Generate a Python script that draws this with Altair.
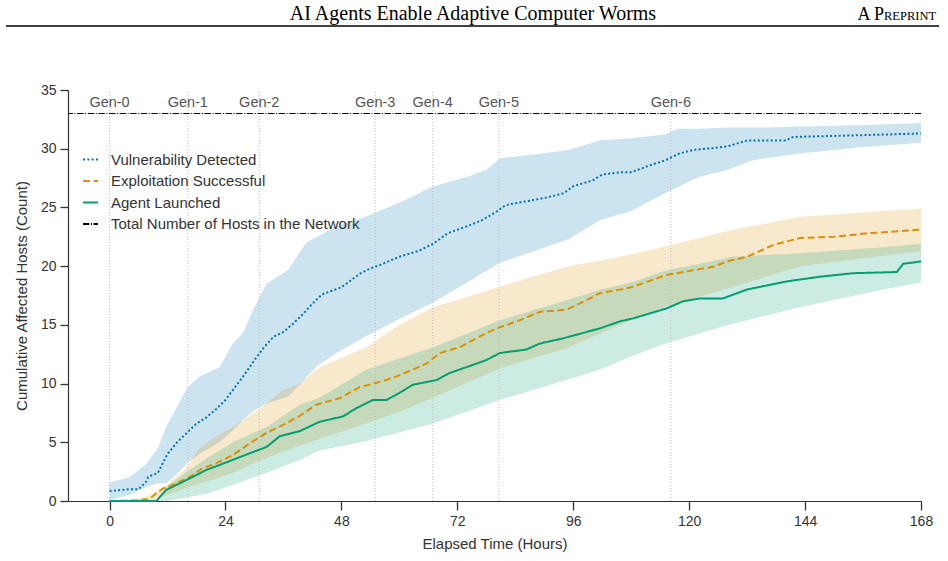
import altair as alt
import pandas as pd

# ---- series: cumulative affected hosts over elapsed hours ----
vuln_t = [0, 4, 6, 7.5, 8, 10, 12, 14, 16, 18, 20, 22, 24, 26, 28, 30, 32, 34, 36, 38,
          40, 42, 44, 46, 48, 50, 52, 54, 56, 60, 64, 67, 70, 74, 77, 80, 82, 86, 90, 94,
          96, 100, 102, 106, 108, 112, 115, 118, 121, 126, 128, 132, 140, 141.5, 160, 168]
vuln_mean = [0.85, 1.0, 1.0, 1.6, 2.05, 2.4, 4.0, 5.0, 5.8, 6.6, 7.1, 7.8, 8.6, 9.7, 10.8, 12.0, 13.1, 14.0, 14.4, 15.1,
             15.9, 16.8, 17.6, 17.9, 18.2, 18.8, 19.4, 19.8, 20.1, 20.8, 21.3, 21.9, 22.8, 23.4, 23.9, 24.6, 25.2, 25.5, 25.8, 26.2,
             26.8, 27.3, 27.8, 28.0, 28.0, 28.6, 29.0, 29.6, 29.9, 30.1, 30.2, 30.7, 30.7, 31.0, 31.2, 31.3]
vuln_band_t = [0, 4, 7.5, 10, 11.7, 14, 16, 18.6, 22.8, 25.5, 27.6, 30, 32.5, 37, 40.7, 43, 47, 53, 60, 67,
               74, 78, 81, 88, 95, 101.5, 108, 115, 117.5, 122, 128, 133, 136, 143, 155, 168]
vuln_hi = [1.6, 2.0, 3.1, 4.5, 6.3, 8.0, 9.6, 10.6, 11.4, 13.4, 14.3, 16.5, 18.5, 19.7, 22.0, 22.5, 23.4, 24.2, 25.4, 26.8,
           27.6, 28.2, 29.2, 29.5, 29.9, 30.7, 30.9, 31.2, 31.7, 31.7, 31.8, 31.8, 31.8, 31.9, 32.0, 32.2]
vuln_lo = [0.1, 0.5, 1.2, 1.5, 1.5, 2.3, 3.2, 4.0, 5.0, 6.0, 6.9, 7.7, 8.3, 8.9, 10.5, 11.5, 12.6, 14.0, 15.5, 16.9,
           18.6, 19.6, 20.3, 21.3, 22.3, 23.9, 24.7, 26.2, 26.7, 27.6, 28.2, 29.0, 29.2, 29.6, 30.1, 30.5]

exp_t = [0, 6, 8.3, 11, 13.8, 16.6, 19.3, 22, 25.5, 29, 32.5, 36, 39.4, 42.8, 47.6, 51.8, 56.6, 60, 65.6, 68.4,
         72.5, 78, 80.8, 85, 89, 94.6, 98.8, 101.5, 105.7, 108.4, 115.3, 125, 127.8, 132, 137.4, 143, 150, 157, 168]
exp_mean = [0, 0.05, 0.2, 1.05, 1.5, 2.05, 2.8, 3.2, 3.9, 4.9, 5.8, 6.5, 7.25, 8.2, 8.75, 9.7, 10.2, 10.7, 11.7, 12.6,
            13.1, 14.3, 14.8, 15.4, 16.1, 16.3, 17.1, 17.7, 18.0, 18.25, 19.25, 19.95, 20.4, 20.8, 21.8, 22.4, 22.5, 22.8, 23.1]
exp_band_t = [0, 6, 8.3, 11.7, 15.9, 18.6, 22, 25.5, 29.7, 35.9, 39.4, 43.5, 53.2, 60, 67, 80.8, 94.6, 105.7, 115.3, 129,
              143, 168]
exp_hi = [0.05, 0.2, 0.5, 1.3, 2.8, 4.5, 5.5, 6.3, 7.4, 9.45, 10.0, 11.4, 13.1, 15.0, 16.5, 18.25, 19.95, 20.8, 21.7, 23.1,
          24.2, 24.9]
exp_lo = [0, 0, 0, 0.5, 1.1, 1.5, 1.9, 2.4, 3.2, 4.2, 4.7, 5.3, 6.6, 7.6, 8.8, 11.3, 13.0, 15.0, 16.6, 18.2,
          20.0, 21.3]

agent_t = [0, 9.7, 11.7, 14.5, 17.3, 20, 22.8, 25.5, 29, 32.5, 35.2, 39.4, 43.5, 48.3, 51.1, 54.5, 57.3, 60, 62.8, 67.7,
           70.4, 75.3, 78, 80.8, 86.3, 89, 93.9, 98.8, 101.5, 105.7, 108.4, 115.3, 118.7, 122.2, 127, 131.9, 140.2, 147.1, 154, 163,
           164.3, 168]
agent_mean = [0, 0, 0.94, 1.5, 2.07, 2.64, 3.07, 3.5, 4.06, 4.6, 5.5, 5.95, 6.75, 7.2, 7.9, 8.6, 8.6, 9.2, 9.9, 10.3,
              10.9, 11.6, 12.0, 12.6, 12.9, 13.4, 13.85, 14.4, 14.7, 15.3, 15.55, 16.4, 17.0, 17.25, 17.25, 18.0, 18.7, 19.1, 19.4, 19.5,
              20.2, 20.4]
agent_band_t = [0, 9.7, 12, 16, 20, 25.5, 32.5, 39.4, 43.5, 53.2, 67, 80.8, 94.6, 101.5, 108, 115, 129, 143, 160, 168]
agent_hi = [0, 0.1, 1.3, 2.5, 3.6, 5.0, 6.3, 8.2, 8.8, 11.2, 13.1, 15.4, 17.1, 18.0, 18.6, 19.6, 20.8, 21.1, 21.6, 21.9]
agent_lo = [0, 0, 0, 0.3, 0.6, 1.36, 2.4, 3.5, 4.3, 5.1, 6.6, 8.6, 10.3, 11.2, 12.3, 13.4, 15.1, 16.5, 18.0, 18.6]

total_hosts = 33

gen_labels = ["Gen-0", "Gen-1", "Gen-2", "Gen-3", "Gen-4", "Gen-5", "Gen-6"]
gen_hours = [0, 16.2, 31.0, 55.0, 66.9, 80.6, 116.2]

x_ticks = [0, 24, 48, 72, 96, 120, 144, 168]
y_ticks = [0, 5, 10, 15, 20, 25, 30, 35]

S_VULN = "Vulnerability Detected"
S_EXP = "Exploitation Successful"
S_AGENT = "Agent Launched"
S_TOTAL = "Total Number of Hosts in the Network"

series_names = [S_VULN, S_EXP, S_AGENT, S_TOTAL]
series_colors = ["#0173B2", "#DE8F05", "#029E73", "#000000"]
series_dashes = [[2, 2.3], [7, 3.5], [1, 0], [6.4, 1.6, 1, 1.6]]

# ---- tidy tables ----
lines = pd.concat([
    pd.DataFrame({"series": S_VULN, "t": vuln_t, "v": vuln_mean}),
    pd.DataFrame({"series": S_EXP, "t": exp_t, "v": exp_mean}),
    pd.DataFrame({"series": S_AGENT, "t": agent_t, "v": agent_mean}),
], ignore_index=True)

bands = pd.concat([
    pd.DataFrame({"band": S_VULN, "t": vuln_band_t, "lo": vuln_lo, "hi": vuln_hi}),
    pd.DataFrame({"band": S_EXP, "t": exp_band_t, "lo": exp_lo, "hi": exp_hi}),
    pd.DataFrame({"band": S_AGENT, "t": agent_band_t, "lo": agent_lo, "hi": agent_hi}),
], ignore_index=True)

total_df = pd.DataFrame({"series": [S_TOTAL], "v": [total_hosts]})
gens = pd.DataFrame({"gen": gen_labels, "h": gen_hours})

FONT = "Liberation Sans"
TXT = "#333333"

x_scale = alt.Scale(domain=[-8.6, 168], nice=False, zero=False)
y_scale = alt.Scale(domain=[0, 35], nice=False)
color_scale = alt.Scale(domain=series_names, range=series_colors)
dash_scale = alt.Scale(domain=series_names, range=series_dashes)
fill_scale = alt.Scale(domain=series_names[:3], range=series_colors[:3])

x_axis = alt.Axis(values=x_ticks, title="Elapsed Time (Hours)", grid=False, labelFlush=False,
                  tickSize=9, labelPadding=4, titlePadding=8)
y_axis = alt.Axis(values=y_ticks, title="Cumulative Affected Hosts (Count)", grid=False, labelFlush=False,
                  tickSize=8, labelPadding=4, titlePadding=11)

legend = alt.Legend(title=None, orient="none", legendX=14, legendY=61,
                    symbolType="stroke", symbolSize=225, symbolStrokeWidth=2,
                    labelFontSize=15, labelFont=FONT, labelColor=TXT, labelLimit=0,
                    rowPadding=4.5, labelOffset=12, padding=0)

X = alt.X("t:Q", scale=x_scale, axis=x_axis)

# shaded spread around each mean curve
band_layer = alt.Chart(bands).mark_area(fillOpacity=0.2, interpolate="linear").encode(
    x=X,
    y=alt.Y("lo:Q", scale=y_scale, axis=y_axis),
    y2="hi:Q",
    fill=alt.Fill("band:N", scale=fill_scale, legend=None),
    detail="band:N",
)

gen_rules = alt.Chart(gens).mark_rule(color="#bdbdbd", strokeWidth=1, strokeDash=[1, 2]).encode(
    x=alt.X("h:Q", scale=x_scale),
    y=alt.datum(0, scale=y_scale),
    y2=alt.datum(35),
)

gen_text = alt.Chart(gens).mark_text(font=FONT, fontSize=14.5, color="#555555", baseline="middle").encode(
    x=alt.X("h:Q", scale=x_scale),
    y=alt.datum(33.9, scale=y_scale),
    text="gen:N",
)

total_rule = alt.Chart(total_df).mark_rule(strokeWidth=1).encode(
    y=alt.Y("v:Q", scale=y_scale),
    color=alt.Color("series:N", scale=color_scale, legend=legend),
    strokeDash=alt.StrokeDash("series:N", scale=dash_scale, legend=legend),
)

line_layer = alt.Chart(lines).mark_line(strokeWidth=2, strokeCap="butt").encode(
    x=X,
    y=alt.Y("v:Q", scale=y_scale),
    color=alt.Color("series:N", scale=color_scale, legend=legend),
    strokeDash=alt.StrokeDash("series:N", scale=dash_scale, legend=legend),
)

# ---- running page header ----
header_title = alt.Chart(pd.DataFrame({"s": ["AI Agents Enable Adaptive Computer Worms"]})).mark_text(
    font="Liberation Serif", fontSize=20, color="#000000", align="center", baseline="alphabetic"
).encode(text="s:N", x=alt.value(405), y=alt.value(-70))

header_a = alt.Chart(pd.DataFrame({"s": ["A P"]})).mark_text(
    font="Liberation Serif", fontSize=18, color="#000000", align="right", baseline="alphabetic"
).encode(text="s:N", x=alt.value(816), y=alt.value(-70))

header_b = alt.Chart(pd.DataFrame({"s": ["REPRINT"]})).mark_text(
    font="Liberation Serif", fontSize=12.5, color="#000000", align="left", baseline="alphabetic"
).encode(text="s:N", x=alt.value(816), y=alt.value(-70))

header_rule = alt.Chart(pd.DataFrame({"s": [0]})).mark_rule(color="#000000", strokeWidth=1.3).encode(
    x=alt.value(-62), x2=alt.value(871), y=alt.value(-64)
)

chart = alt.layer(
    band_layer, gen_rules, total_rule, line_layer, gen_text,
    header_title, header_a, header_b, header_rule,
).properties(
    width=853, height=411,
    autosize=alt.AutoSizeParams(type="none"),
    padding={"left": 68, "top": 90, "right": 27, "bottom": 60},
).configure_view(
    stroke=None
).configure_axis(
    domainColor="#333333", domainWidth=1.2, tickColor="#333333", tickWidth=1.3,
    labelFont=FONT, labelFontSize=14, labelColor=TXT,
    titleFont=FONT, titleFontSize=15, titleColor=TXT, titleFontWeight="normal",
)

chart.save("out.html", embed_options={"renderer": "svg", "actions": False})
